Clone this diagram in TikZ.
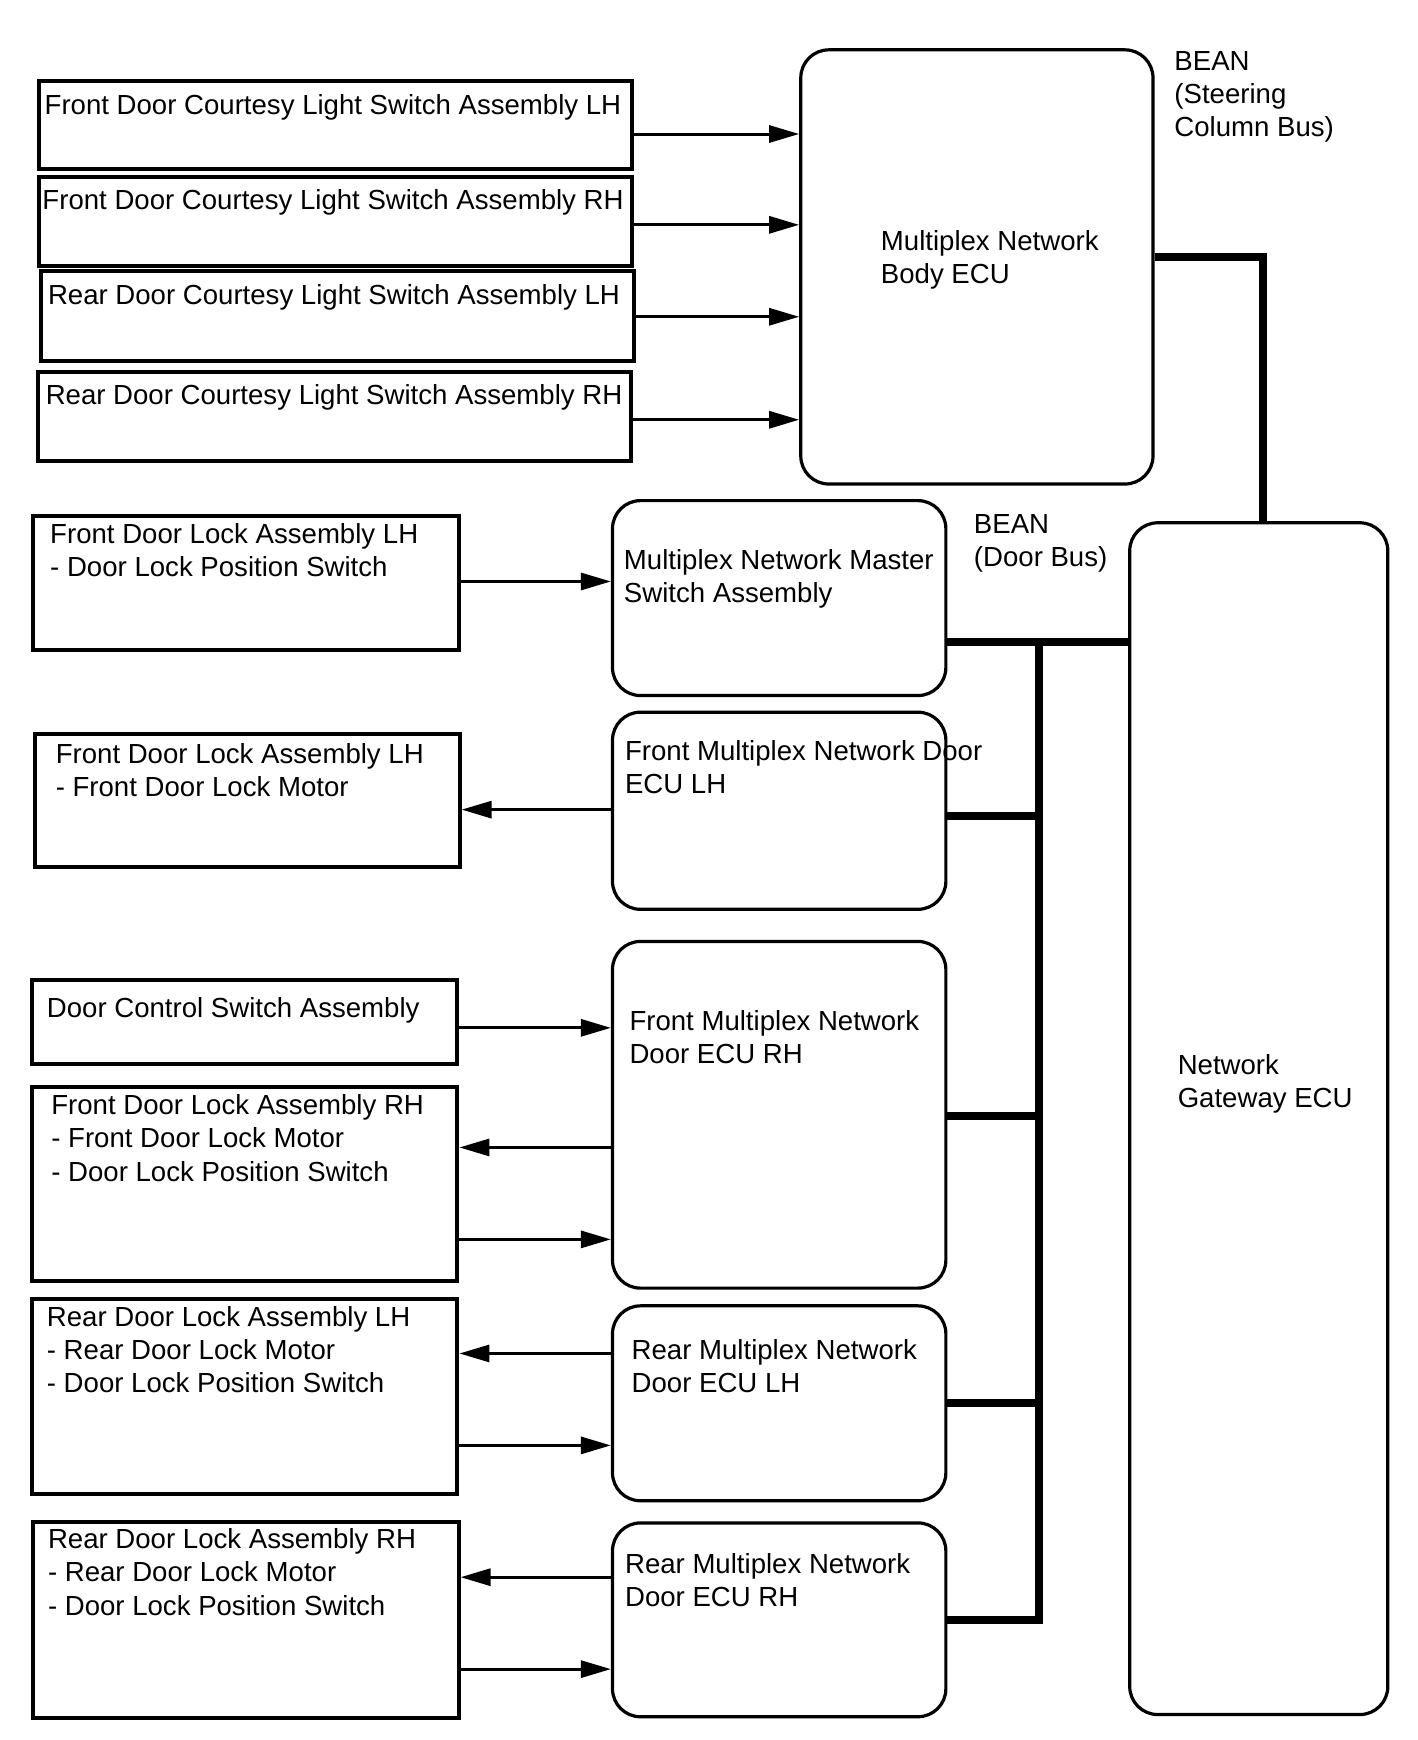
\documentclass[tikz,border=0pt]{standalone}
\usepackage{fontspec}
\setmainfont{Liberation Sans}
\usetikzlibrary{fit,arrows.meta}
\newcommand{\tstrut}{\rule{0pt}{10.35pt}}
\begin{document}
\begin{tikzpicture}[x=0.554pt,y=-0.554pt,
  sbox/.style={draw,line width=2pt,inner sep=0pt,rectangle},
  rbox/.style={draw,line width=1.6pt,inner sep=0pt,rectangle,rounded corners=14pt},
  txt/.style={anchor=north west,inner sep=0pt,align=left,font=\fontsize{13.8}{16.6}\selectfont,yshift=10.35pt},
  arr/.style={line width=1.5pt,-{Triangle[length=15pt,width=8.5pt]}},
  bus/.style={line width=4pt,line join=miter}]
\useasboundingbox (0,0) rectangle (1280,1571);

% top-left switch boxes
\node[sbox,fit={(35,73)(571,153)}] (c1) {};
\node[sbox,fit={(35,160)(571,240)}] (c2) {};
\node[sbox,fit={(37,245)(572,326)}] (c3) {};
\node[sbox,fit={(34,336)(570,416)}] (c4) {};
\node[txt] (c1t) at (40,103) {\tstrut Front Door Courtesy Light Switch Assembly LH};
\node[txt] (c2t) at (38,189) {\tstrut Front Door Courtesy Light Switch Assembly RH};
\node[txt] (c3t) at (43,275) {\tstrut Rear Door Courtesy Light Switch Assembly LH};
\node[txt] (c4t) at (41,365) {\tstrut Rear Door Courtesy Light Switch Assembly RH};

% body ECU
\node[rbox,fit={(723,45)(1041,437)}] (body) {};
\node[txt] (bodyt) at (795,226) {\tstrut Multiplex Network\\Body ECU};
\node[txt] (bean1) at (1060,63) {\tstrut BEAN\\(Steering\\Column Bus)};

% gateway
\node[rbox,fit={(1020,472)(1253,1548)}] (gw) {};
\node[txt] (gwt) at (1063,970) {\tstrut Network\\Gateway ECU};

\node[txt] (bean2) at (879,481) {\tstrut BEAN\\(Door Bus)};

% ECUs
\node[rbox,fit={(553,452)(854,628)}] (m) {};
\node[txt] (mt) at (563,514) {\tstrut Multiplex Network Master\\Switch Assembly};
\node[rbox,fit={(553,643)(854,821)}] (e1) {};
\node[txt] (e1t) at (564,686) {\tstrut Front Multiplex Network Door\\ECU LH};
\node[rbox,fit={(553,850)(854,1163)}] (e2) {};
\node[txt] (e2t) at (568,930) {\tstrut Front Multiplex Network\\Door ECU RH};
\node[rbox,fit={(553,1179)(854,1355)}] (e3) {};
\node[txt] (e3t) at (570,1227) {\tstrut Rear Multiplex Network\\Door ECU LH};
\node[rbox,fit={(553,1375)(854,1550)}] (e4) {};
\node[txt] (e4t) at (564,1420) {\tstrut Rear Multiplex Network\\Door ECU RH};

% lower-left boxes
\node[sbox,fit={(30,466)(414,587)}] (l1) {};
\node[txt] (l1t) at (45,490) {\tstrut Front Door Lock Assembly LH\\- Door Lock Position Switch};
\node[sbox,fit={(32,663)(415,783)}] (l2) {};
\node[txt] (l2t) at (50,689) {\tstrut Front Door Lock Assembly LH\\- Front Door Lock Motor};
\node[sbox,fit={(29,885)(413,961)}] (l3) {};
\node[txt] (l3t) at (42,918) {\tstrut Door Control Switch Assembly};
\node[sbox,fit={(29,981)(413,1157)}] (l4) {};
\node[txt] (l4t) at (46,1006) {\tstrut Front Door Lock Assembly RH\\- Front Door Lock Motor\\- Door Lock Position Switch};
\node[sbox,fit={(29,1173)(413,1349)}] (l5) {};
\node[txt] (l5t) at (42,1197) {\tstrut Rear Door Lock Assembly LH\\- Rear Door Lock Motor\\- Door Lock Position Switch};
\node[sbox,fit={(30,1374)(414,1551)}] (l6) {};
\node[txt] (l6t) at (43,1398) {\tstrut Rear Door Lock Assembly RH\\- Rear Door Lock Motor\\- Door Lock Position Switch};

% arrow levels
\coordinate (a1) at (0,121);
\coordinate (a2) at (0,203);
\coordinate (a3) at (0,286);
\coordinate (a4) at (0,379);
\coordinate (a5) at (0,525);
\coordinate (a6) at (0,731);
\coordinate (a7) at (0,928);
\coordinate (a8) at (0,1036);
\coordinate (a9) at (0,1119);
\coordinate (a10) at (0,1222);
\coordinate (a11) at (0,1305);
\coordinate (a12) at (0,1424);
\coordinate (a13) at (0,1507);

\draw[arr] (c1.east|-a1) -- (body.west|-a1);
\draw[arr] (c2.east|-a2) -- (body.west|-a2);
\draw[arr] (c3.east|-a3) -- (body.west|-a3);
\draw[arr] (c4.east|-a4) -- (body.west|-a4);
\draw[arr] (l1.east|-a5) -- (m.west|-a5);
\draw[arr] (e1.west|-a6) -- (l2.east|-a6);
\draw[arr] (l3.east|-a7) -- (e2.west|-a7);
\draw[arr] (e2.west|-a8) -- (l4.east|-a8);
\draw[arr] (l4.east|-a9) -- (e2.west|-a9);
\draw[arr] (e3.west|-a10) -- (l5.east|-a10);
\draw[arr] (l5.east|-a11) -- (e3.west|-a11);
\draw[arr] (e4.west|-a12) -- (l6.east|-a12);
\draw[arr] (l6.east|-a13) -- (e4.west|-a13);

% buses
\coordinate (s1) at (1140,232);
\draw[bus] (body.east|-s1) -- (s1) -- (gw.north-|s1);
\coordinate (b0) at (938,580);
\coordinate (b1) at (938,737);
\coordinate (b2) at (938,1008);
\coordinate (b3) at (938,1267);
\coordinate (b4) at (938,1463);
\draw[bus] (m.east|-b0) -- (gw.west|-b0);
\draw[bus] (e4.east|-b4) -- (b4) -- (b0);
\draw[bus] (e1.east|-b1) -- (b1);
\draw[bus] (e2.east|-b2) -- (b2);
\draw[bus] (e3.east|-b3) -- (b3);
\end{tikzpicture}
\end{document}
